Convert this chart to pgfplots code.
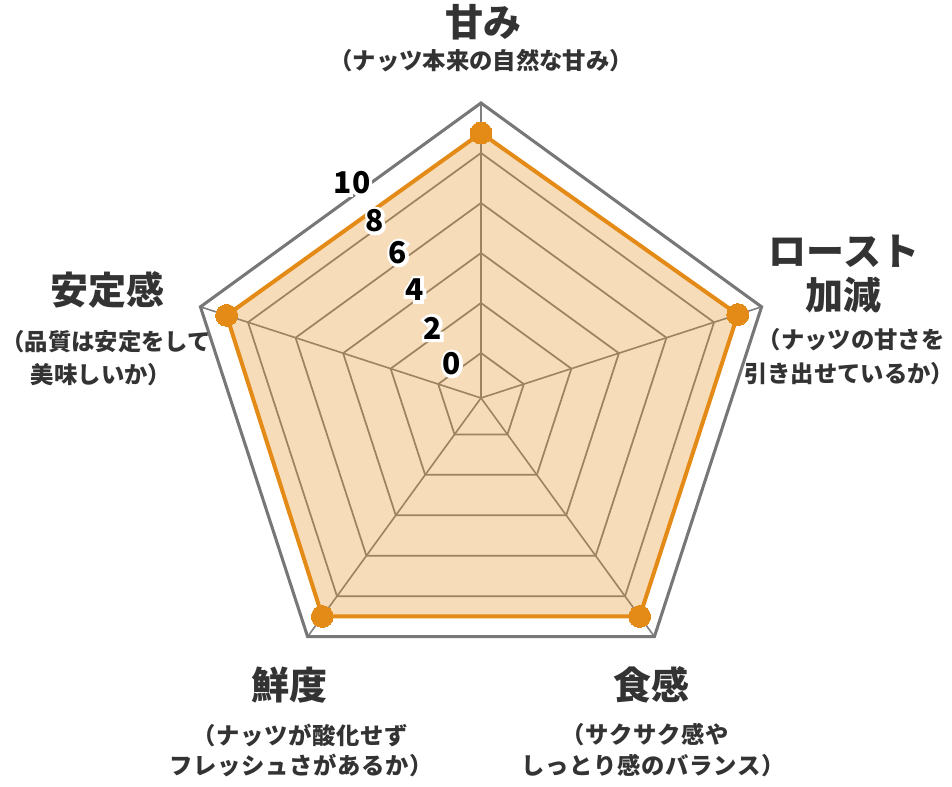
\documentclass[border=0pt]{standalone}
\usepackage{pgfplots}
\pgfplotsset{compat=1.18}
\usepackage{pgfplotstable}
\usepackage{fontspec}
\setmainfont{Noto Sans CJK JP}
\usetikzlibrary{calc}

\definecolor{roast}{HTML}{E38A17}
\definecolor{gridgray}{HTML}{808080}
\definecolor{outergray}{HTML}{777777}
\definecolor{txt}{HTML}{333333}

% angle of each spoke, score (0-10)
\pgfplotstableread{
a v
90 8.8
18 9.0
-54 9.0
-126 9.0
162 8.9
}\scores

\newcommand\titlefont{\bfseries\fontsize{28.5}{30}\selectfont}
\newcommand\subfont{\bfseries\fontsize{17.5}{20}\selectfont}
\newcommand\subfontw{\bfseries\fontsize{17.5}{20}\selectfont\addfontfeature{LetterSpace=3}}
\newcommand\digfont{\bfseries\fontsize{22.5}{24}\selectfont}
\newcommand\halofont{\bfseries\fontsize{22.5}{24}\selectfont\addfontfeature{FakeBold=20}}

\begin{document}
\begin{tikzpicture}
\begin{axis}[
  x=0.75pt, y=0.75pt,
  xmin=-481, xmax=471, ymin=-388, ymax=398,
  hide axis, clip=false,
]
\coordinate (C) at (axis cs:0,0);

% spokes
\pgfplotsinvokeforeach{90,18,-54,-126,162}{
  \draw[gridgray, line width=1.2pt] (axis cs:0,0) -- (axis cs:{295*cos(#1)},{295*sin(#1)});
}
% rings 0..8
\pgfplotsinvokeforeach{0,2,4,6,8}{
  \addplot[gridgray, line width=1.3pt, mark=none, forget plot]
    table[x expr={25*(#1+1.8)*cos(\thisrow{a})}, y expr={25*(#1+1.8)*sin(\thisrow{a})}] {\scores} -- cycle;
}
% outer ring (10)
\addplot[outergray, line width=2.3pt, mark=none, forget plot]
  table[x expr={25*11.8*cos(\thisrow{a})}, y expr={25*11.8*sin(\thisrow{a})}] {\scores} -- cycle;

% scores
\addplot[draw=roast, line width=3pt, fill=roast, fill opacity=0.3, draw opacity=1,
  mark=*, mark size=8.2pt, mark options={fill=roast, draw=roast, fill opacity=1, line width=0pt}]
  table[x expr={25*(\thisrow{v}+1.8)*cos(\thisrow{a})}, y expr={25*(\thisrow{v}+1.8)*sin(\thisrow{a})}] {\scores} -- cycle;
\end{axis}

\begin{scope}[shift={(C)}, x=0.75pt, y=0.75pt, every node/.style={inner sep=0pt}]
  % scale numbers with a white halo
  \foreach \p/\t in {{-29,34}/0, {-48,70}/2, {-66,108}/4, {-83,145}/6, {-106,177}/8, {-129,215}/10}{
    \node[text=white, font=\halofont] at (\p) {\t};
    \node[text=black, font=\digfont] at (\p) {\t};
  }

  \node[text=txt, font=\titlefont] at (2,376) {甘み};
  \node[text=txt, font=\subfont] at (0,337) {（ナッツ本来の自然な甘み）};

  \node[text=txt, font=\titlefont] at (363,147) {ロースト};
  \node[text=txt, font=\titlefont] at (362,103) {加減};
  \node[text=txt, font=\subfont] at (370,58) {（ナッツの甘さを};
  \node[text=txt, font=\subfont] at (368,24) {引き出せているか）};

  \node[text=txt, font=\titlefont] at (-374,108) {安定感};
  \node[text=txt, font=\subfont] at (-375,56) {（品質は安定をして};
  \node[text=txt, font=\subfont] at (-380,23) {美味しいか）};

  \node[text=txt, font=\titlefont] at (-192,-287) {鮮度};
  \node[text=txt, font=\subfontw] at (-181,-337) {（ナッツが酸化せず};
  \node[text=txt, font=\subfontw] at (-180,-367) {フレッシュさがあるか）};

  \node[text=txt, font=\titlefont] at (170,-287) {食感};
  \node[text=txt, font=\subfontw] at (164,-337) {（サクサク感や};
  \node[text=txt, font=\subfontw] at (172,-368) {しっとり感のバランス）};
\end{scope}
\pgfresetboundingbox
\useasboundingbox (0,0) rectangle (714pt,589.5pt);
\end{tikzpicture}
\end{document}
